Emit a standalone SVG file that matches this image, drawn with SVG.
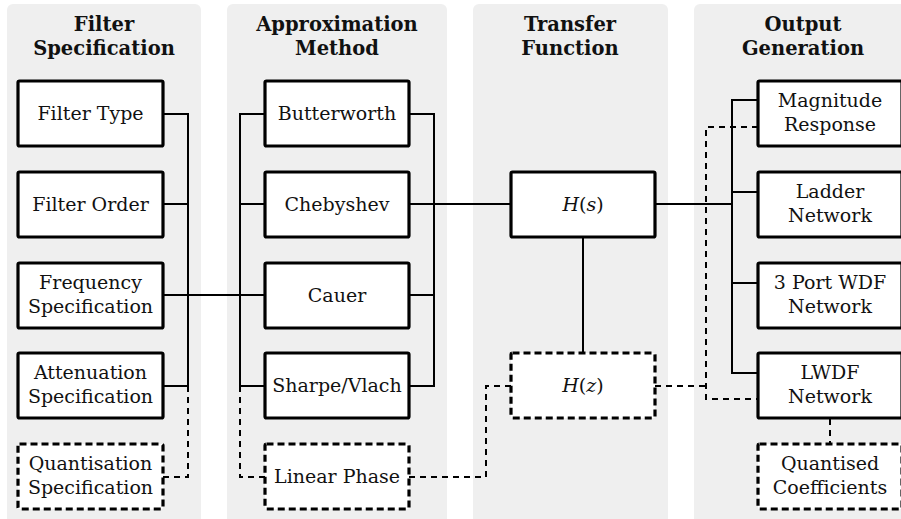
<svg xmlns="http://www.w3.org/2000/svg" width="901" height="519" viewBox="0 0 901 519">
  <style>
    .lane { fill: #efefef; }
    .head { font-family: "DejaVu Serif", "Liberation Serif", serif; font-weight: bold; font-size: 19.5px; fill: #111; text-anchor: middle; }
    .lbl { font-family: "DejaVu Serif", "Liberation Serif", serif; font-size: 19px; fill: #111; text-anchor: middle; }
    .math { font-style: italic; }
    .box { fill: #fff; stroke: #000; stroke-width: 3.2; }
    .opt { stroke-dasharray: 7 4; }
    .wire { fill: none; stroke: #000; stroke-width: 2; }
    .dash { stroke-dasharray: 6 5; }
  </style>

  <!-- stage lanes -->
  <g id="lanes">
    <rect class="lane" x="7" y="4" width="194" height="520" rx="6"/>
    <rect class="lane" x="227" y="4" width="220" height="520" rx="6"/>
    <rect class="lane" x="473" y="4" width="195" height="520" rx="6"/>
    <rect class="lane" x="694" y="4" width="220" height="520" rx="6"/>
    <text class="head" x="104" y="31">Filter</text>
    <text class="head" x="104" y="55">Specification</text>
    <text class="head" x="337" y="31">Approximation</text>
    <text class="head" x="337" y="55">Method</text>
    <text class="head" x="570" y="31">Transfer</text>
    <text class="head" x="570" y="55">Function</text>
    <text class="head" x="803" y="31">Output</text>
    <text class="head" x="803" y="55">Generation</text>
  </g>

  <!-- connectors -->
  <g id="connectors">
    <!-- specification bus -->
    <path class="wire" d="M163 114 H188 V386 M163 204 H188 M163 386 H188 M163 295 H265"/>
    <path class="wire dash" d="M188 386 V477 H163"/>
    <!-- approximation buses -->
    <path class="wire" d="M265 114 H240 V386 H265 M240 204 H265"/>
    <path class="wire" d="M409 114 H434 V386 H409 M409 295 H434 M409 204 H511"/>
    <path class="wire dash" d="M240 386 V477 H265"/>
    <!-- transfer function -->
    <path class="wire" d="M583 238 V353"/>
    <path class="wire dash" d="M511 386 H486 V477 H409"/>
    <!-- output bus -->
    <path class="wire" d="M655 204 H732 M758 100 H732 V373 H758 M732 192 H758 M732 283 H758"/>
    <path class="wire dash" d="M758 127 H706 V399 H758 M655 386 H706"/>
    <path class="wire dash" d="M830 419 V444"/>
  </g>

  <!-- filter specification -->
  <g id="filter-type">
    <rect class="box" x="18" y="81" width="145" height="65" rx="1.5"/>
    <text class="lbl" x="90.5" y="120">Filter Type</text>
  </g>
  <g id="filter-order">
    <rect class="box" x="18" y="172" width="145" height="65" rx="1.5"/>
    <text class="lbl" x="90.5" y="211">Filter Order</text>
  </g>
  <g id="frequency-spec">
    <rect class="box" x="18" y="263" width="145" height="65" rx="1.5"/>
    <text class="lbl" x="90.5" y="289">Frequency</text>
    <text class="lbl" x="90.5" y="313">Specification</text>
  </g>
  <g id="attenuation-spec">
    <rect class="box" x="18" y="353" width="145" height="65" rx="1.5"/>
    <text class="lbl" x="90.5" y="379">Attenuation</text>
    <text class="lbl" x="90.5" y="403">Specification</text>
  </g>
  <g id="quantisation-spec">
    <rect class="box opt" x="18" y="444" width="145" height="65" rx="1.5"/>
    <text class="lbl" x="90.5" y="470">Quantisation</text>
    <text class="lbl" x="90.5" y="494">Specification</text>
  </g>

  <!-- approximation method -->
  <g id="butterworth">
    <rect class="box" x="265" y="81" width="144" height="65" rx="1.5"/>
    <text class="lbl" x="337" y="120">Butterworth</text>
  </g>
  <g id="chebyshev">
    <rect class="box" x="265" y="172" width="144" height="65" rx="1.5"/>
    <text class="lbl" x="337" y="211">Chebyshev</text>
  </g>
  <g id="cauer">
    <rect class="box" x="265" y="263" width="144" height="65" rx="1.5"/>
    <text class="lbl" x="337" y="302">Cauer</text>
  </g>
  <g id="sharpe-vlach">
    <rect class="box" x="265" y="353" width="144" height="65" rx="1.5"/>
    <text class="lbl" x="337" y="392">Sharpe/Vlach</text>
  </g>
  <g id="linear-phase">
    <rect class="box opt" x="265" y="444" width="144" height="65" rx="1.5"/>
    <text class="lbl" x="337" y="483">Linear Phase</text>
  </g>

  <!-- transfer function -->
  <g id="h-s">
    <rect class="box" x="511" y="172" width="144" height="65" rx="1.5"/>
    <text class="lbl" x="583" y="211"><tspan class="math">H</tspan>(<tspan class="math">s</tspan>)</text>
  </g>
  <g id="h-z">
    <rect class="box opt" x="511" y="353" width="144" height="65" rx="1.5"/>
    <text class="lbl" x="583" y="392"><tspan class="math">H</tspan>(<tspan class="math">z</tspan>)</text>
  </g>

  <!-- output generation -->
  <g id="magnitude-response">
    <rect class="box" x="758" y="81" width="144" height="65" rx="1.5"/>
    <text class="lbl" x="830" y="107">Magnitude</text>
    <text class="lbl" x="830" y="131">Response</text>
  </g>
  <g id="ladder-network">
    <rect class="box" x="758" y="172" width="144" height="65" rx="1.5"/>
    <text class="lbl" x="830" y="198">Ladder</text>
    <text class="lbl" x="830" y="222">Network</text>
  </g>
  <g id="three-port-wdf">
    <rect class="box" x="758" y="263" width="144" height="65" rx="1.5"/>
    <text class="lbl" x="830" y="289">3 Port WDF</text>
    <text class="lbl" x="830" y="313">Network</text>
  </g>
  <g id="lwdf-network">
    <rect class="box" x="758" y="353" width="144" height="65" rx="1.5"/>
    <text class="lbl" x="830" y="379">LWDF</text>
    <text class="lbl" x="830" y="403">Network</text>
  </g>
  <g id="quantised-coefficients">
    <rect class="box opt" x="758" y="444" width="144" height="65" rx="1.5"/>
    <text class="lbl" x="830" y="470">Quantised</text>
    <text class="lbl" x="830" y="494">Coefficients</text>
  </g>
</svg>
